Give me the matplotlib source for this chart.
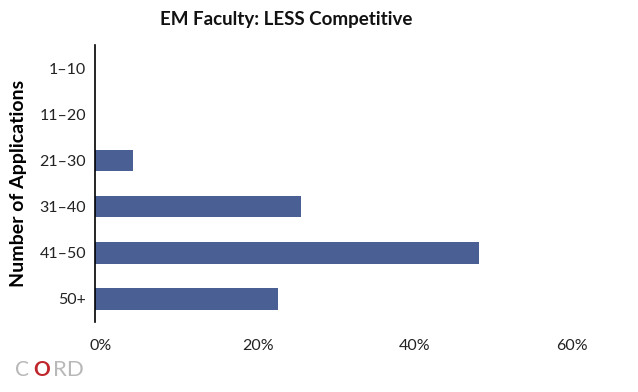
import matplotlib
matplotlib.use("Agg")
import matplotlib.pyplot as plt
import matplotlib.transforms as mtransforms

categories = ["1\u201310", "11\u201320", "21\u201330", "31\u201340", "41\u201350", "50+"]
values = [0.0, 0.0, 4.9, 26.3, 49.0, 23.4]
xticks = [0, 20, 40, 60]
xtick_labels = ["0%", "20%", "40%", "60%"]

plt.rcParams['font.family'] = ['Lato', 'DejaVu Sans']

fig = plt.figure(figsize=(6.38, 3.92), dpi=100)
ax = fig.add_axes([94.5/638, (392-322)/392, (565-94.5)/638, (322-45)/392])

ypos = list(range(len(categories)))
ax.barh(ypos, values, height=0.47, color="#4a6094")
ax.set_ylim(len(categories)-0.5, -0.5)
ax.set_xlim(0, 60)
ax.set_yticks(ypos)
ax.set_yticklabels(categories, fontsize=11.5, color="#222222")
ax.set_xticks(xticks)
ax.set_xticklabels(xtick_labels, fontsize=11.5, color="#222222")
ax.tick_params(axis="both", length=0)
ax.tick_params(axis="y", pad=6)
ax.tick_params(axis="x", pad=12)
offset = mtransforms.ScaledTranslation(6.5/100, 0, fig.dpi_scale_trans)
for lbl in ax.get_xticklabels():
    lbl.set_transform(lbl.get_transform() + offset)

for s in ["top", "right", "bottom"]:
    ax.spines[s].set_visible(False)
ax.spines["left"].set_linewidth(1.2)
ax.spines["left"].set_color("black")

ax.set_ylabel("Number of Applications", fontsize=14, fontweight="bold", labelpad=9)
fig.text(286/638, 1-20/392, "EM Faculty: LESS Competitive", ha="center", va="center",
         fontsize=13.5, fontweight="bold", color="#111111")

# CORD logo
fig.text(15/638, 1-370/392, "C", fontsize=15, color="#b8b8b8", va="center", ha="left")
fig.text(33/638, 1-370/392, "O", fontsize=15, color="#c0272d", va="center", ha="left", fontweight="bold")
fig.text(53/638, 1-370/392, "RD", fontsize=16, color="#b8b8b8", va="center", ha="left")

fig.savefig("out.png", dpi=100)
